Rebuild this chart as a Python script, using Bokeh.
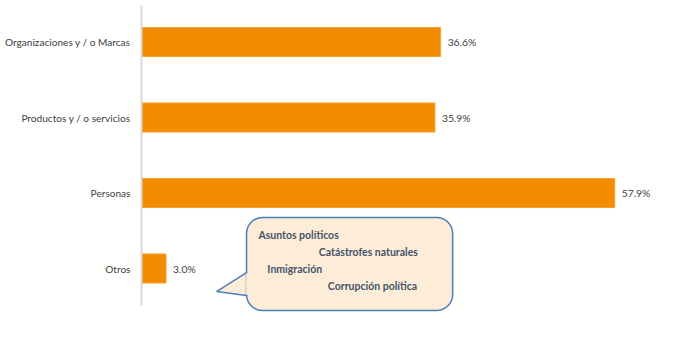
from bokeh.plotting import figure
from bokeh.models import Range1d, FixedTicker, BoxAnnotation, PolyAnnotation, ColumnDataSource, LabelSet
from bokeh.core.properties import value
from bokeh.embed import file_html
from bokeh.resources import INLINE

categories = ["Organizaciones y / o Marcas", "Productos y / o servicios", "Personas", "Otros"]
values = [36.6, 35.9, 57.9, 3.0]
labels = ["36.6%", "35.9%", "57.9%", "3.0%"]
callout_items = ["Asuntos políticos", "Catástrofes naturales", "Inmigración", "Corrupción política"]

n = len(categories)
ypos = [n - 1 - i for i in range(n)]

BAR = "#F28C00"
TXT = "#404040"

p = figure(width=670, height=341, output_backend="svg", toolbar_location=None,
           x_range=Range1d(0, 63.5), y_range=Range1d(-0.649, 3.55),
           min_border_left=141, min_border_right=10, min_border_top=0, min_border_bottom=24)
p.outline_line_color = None
p.grid.visible = False
p.xaxis.visible = False

src = ColumnDataSource(dict(y=ypos, v=values, lab=labels, cat=categories))
p.hbar(y="y", right="v", left=0, height=0.385, source=src, fill_color=BAR, line_color="#F7A030", line_width=1)
p.text(x="v", y="y", text="lab", source=src, x_offset=7, text_baseline="middle",
       text_font=value("Lato"), text_font_size="10.3px", text_color=TXT)

ax = p.yaxis[0]
ax.ticker = FixedTicker(ticks=ypos)
ax.major_label_overrides = {y: c for y, c in zip(ypos, categories)}
ax.major_tick_line_color = None
ax.minor_tick_line_color = None
ax.axis_line_color = "#D9D9D9"
ax.axis_line_width = 2
ax.bounds = (-0.49, 3.483)
ax.major_label_standoff = 5
ax.major_label_text_font = "Lato"
ax.major_label_text_font_size = "10.1px"
ax.major_label_text_color = TXT

# callout bubble
box_l, box_r, box_t, box_b = 12.85, 38.07, 0.676, -0.556
FILL = "#FDEDD8"
EDGE = "#4A7EBB"
p.add_layout(BoxAnnotation(left=box_l, right=box_r, top=box_t, bottom=box_b,
                           fill_color=FILL, fill_alpha=1, line_color=EDGE, line_alpha=1, line_width=1.5,
                           border_radius=16, level="overlay"))
tip_x, tip_y = 9.18, -0.305
base_top, base_bot = -0.054, -0.359
p.add_layout(PolyAnnotation(xs=[box_l, tip_x, box_l], ys=[base_top, tip_y, base_bot],
                            fill_color=FILL, fill_alpha=1, line_color=EDGE, line_alpha=1,
                            line_width=1.5, level="overlay"))
p.add_layout(PolyAnnotation(xs=[box_l - 0.05, box_l + 0.6, box_l + 0.6, box_l - 0.05],
                            ys=[base_top - 0.01, base_top - 0.01, base_bot + 0.01, base_bot + 0.01],
                            fill_color=FILL, fill_alpha=1, line_color=None, level="overlay"))

cx = [14.3, 21.7, 15.4, 22.8]
cy = [0.45, 0.224, 0.0, -0.226]
csrc = ColumnDataSource(dict(x=cx, y=cy, t=callout_items))
p.add_layout(LabelSet(x="x", y="y", text="t", source=csrc, text_baseline="middle",
                      text_font=value("Lato"), text_font_size="10.5px", text_font_style="bold",
                      text_color="#44546A", level="overlay"))

open("out.html", "w").write(file_html(p, INLINE))
